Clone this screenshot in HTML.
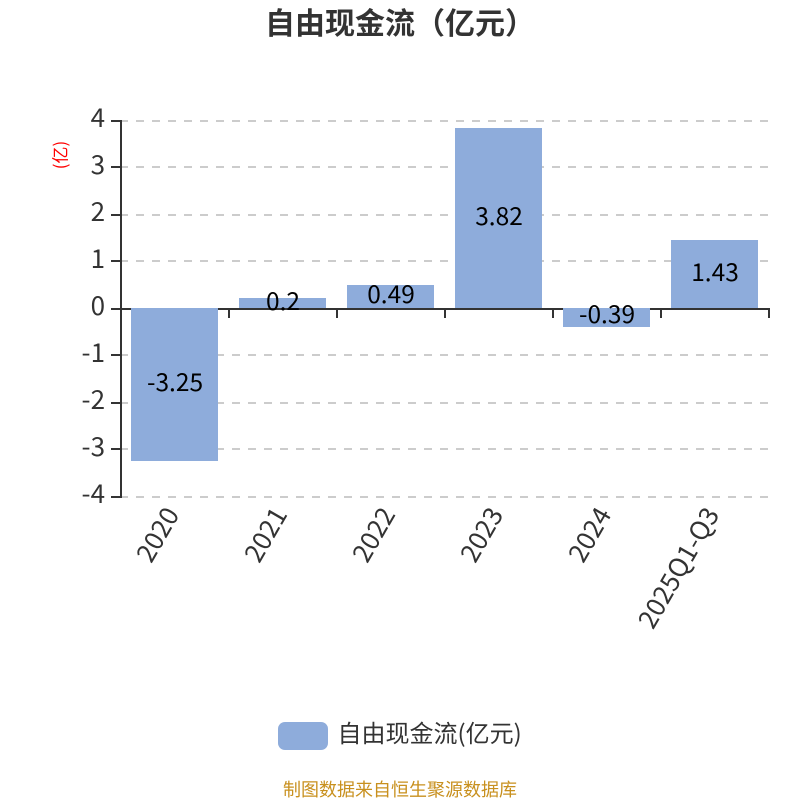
<!DOCTYPE html>
<html><head><meta charset="utf-8">
<style>
html,body{margin:0;padding:0;background:#fff;width:800px;height:800px;overflow:hidden}
svg{display:block}
text{font-family:"Noto Sans CJK SC","Liberation Sans",sans-serif}
</style></head>
<body>
<svg width="800" height="800" viewBox="0 0 800 800" xmlns="http://www.w3.org/2000/svg">
<rect width="800" height="800" fill="#fff"/>
<text x="400" y="34" text-anchor="middle" font-size="30" font-weight="700" fill="#333">自由现金流（亿元）</text>
<g stroke="#ccc" stroke-width="2" stroke-dasharray="8 8" fill="none">
<path d="M120 121H769M120 167H769M120 215H769M120 261H769M120 355H769M120 403H769M120 449H769M120 497H769"/>
</g>
<g stroke="#333" stroke-width="2" fill="none">
<path d="M121 120V498"/>
<path d="M111 121H121M111 167H121M111 215H121M111 261H121M111 309H121M111 355H121M111 403H121M111 449H121M111 497H121"/>
<path d="M121 309H770"/>
<path d="M229 309V318M337 309V318M445 309V318M553 309V318M661 309V318M769 309V318"/>
</g>
<g fill="#8eacdb">
<rect x="131" y="308" width="87" height="153"/>
<rect x="239" y="298" width="87" height="10"/>
<rect x="347" y="285" width="87" height="23"/>
<rect x="455" y="128" width="87" height="180"/>
<rect x="563" y="308" width="87" height="19"/>
<rect x="671" y="240" width="87" height="68"/>
</g>
<g font-size="26" fill="#333" text-anchor="end">
<text x="105" y="127">4</text>
<text x="105" y="174">3</text>
<text x="105" y="221">2</text>
<text x="105" y="268">1</text>
<text x="105" y="315">0</text>
<text x="105" y="362">-1</text>
<text x="105" y="409">-2</text>
<text x="105" y="456">-3</text>
<text x="105" y="503">-4</text>
</g>
<text transform="translate(59,155) rotate(-90)" text-anchor="middle" dominant-baseline="central" font-size="17" fill="#f00">(亿)</text>
<g font-size="24.5" fill="#000" text-anchor="middle">
<text x="175" y="391">-3.25</text>
<text x="283" y="310">0.2</text>
<text x="391" y="303">0.49</text>
<text x="499" y="225">3.82</text>
<text x="607" y="323">-0.39</text>
<text x="715" y="281">1.43</text>
</g>
<g font-size="26" fill="#333" text-anchor="end">
<text transform="translate(171,509) rotate(-60)" dominant-baseline="central">2020</text>
<text transform="translate(279,509) rotate(-60)" dominant-baseline="central">2021</text>
<text transform="translate(387,509) rotate(-60)" dominant-baseline="central">2022</text>
<text transform="translate(495,509) rotate(-60)" dominant-baseline="central">2023</text>
<text transform="translate(603,509) rotate(-60)" dominant-baseline="central">2024</text>
<text transform="translate(711,509) rotate(-60)" dominant-baseline="central">2025Q1-Q3</text>
</g>
<rect x="278" y="722" width="50" height="28" rx="7" ry="7" fill="#8eacdb"/>
<text x="337.500" y="742" font-size="24" fill="#333">自由现金流(亿元)</text>
<text x="400" y="796" text-anchor="middle" font-size="18" fill="#c8901e">制图数据来自恒生聚源数据库</text>
</svg>
</body></html>
